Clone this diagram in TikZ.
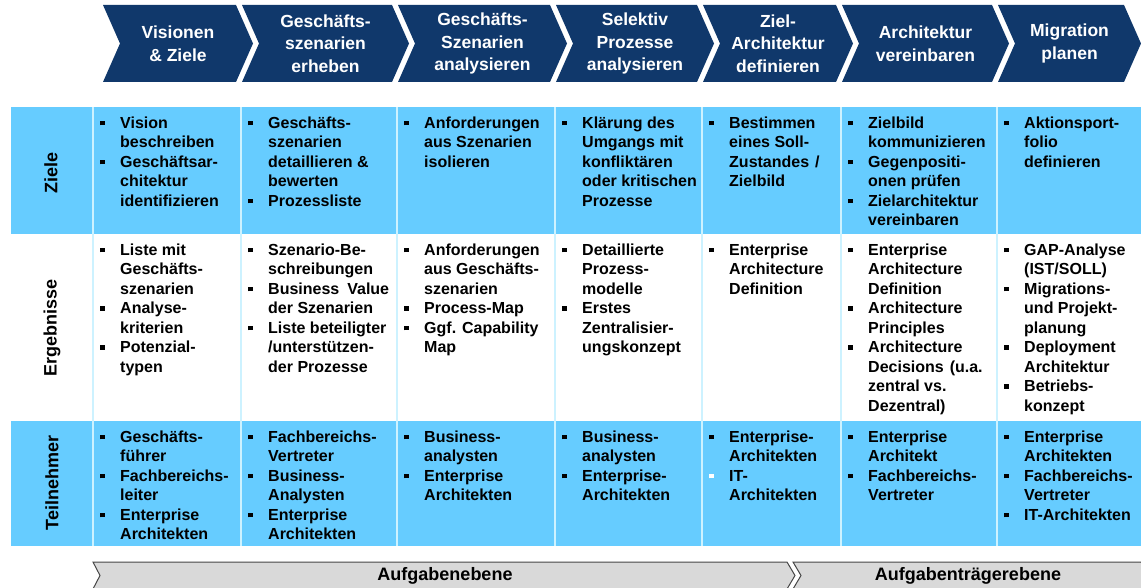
\documentclass[tikz,border=0pt]{standalone}
\usepackage{fontspec}
\setmainfont{Liberation Sans}
\usepackage{array}
\definecolor{navy}{RGB}{16,56,107}
\definecolor{cellblue}{RGB}{102,204,255}
\definecolor{divline}{RGB}{205,242,255}
\definecolor{bargray}{RGB}{217,217,217}
\definecolor{barline}{RGB}{70,70,70}
\newcommand{\bul}{\raisebox{3pt}{\rule{4.5pt}{4.5pt}}}
\newcommand{\wbul}{\textcolor{white}{\bul}}
\newcommand{\mkcell}[4]{\node[celltxt] (#1) at (#2+7,#3+7.5) {\begin{tabular}{@{}p{20pt}@{}l@{}}#4\end{tabular}};}
\newcommand{\chev}[4]{% name, back x, front x, text
  \fill[navy] (#2,5) -- (#3,5) -- (#3+17,43.5) -- (#3,82) -- (#2,82) -- (#2+17,43.5) -- cycle;
  \node[head] (#1) at ({(#2+#3)/2+8.5},43.5) {#4};}
\begin{document}
\begin{tikzpicture}[x=1pt,y=-1pt,
  celltxt/.style={anchor=north west, inner sep=0pt, font=\fontsize{16}{19.5}\selectfont\bfseries},
  head/.style={text=white, font=\fontsize{17.5}{22.5}\selectfont\bfseries, align=center, inner sep=0pt},
  rowlabel/.style={rotate=90, font=\fontsize{18}{20}\selectfont\bfseries, inner sep=0pt},
  bartxt/.style={font=\fontsize{18}{20}\selectfont\bfseries, inner sep=0pt},
  bar/.style={fill=bargray, draw=barline, line width=1pt}]
\useasboundingbox (0,0) rectangle (1141,588);
% header chevrons
\chev{h1}{103}{236}{Visionen\\ \& Ziele}
\chev{h2}{242}{392}{Geschäfts-\\szenarien\\erheben}
\chev{h3}{398}{550}{Geschäfts-\\Szenarien\\analysieren}
\chev{h4}{556}{697}{Selektiv\\Prozesse\\analysieren}
\chev{h5}{703}{836}{Ziel-\\Architektur\\definieren}
\chev{h6}{842}{992}{Architektur\\vereinbaren}
\chev{h7}{998}{1124}{Migration\\planen}
% rows
\fill[cellblue] (11,107) rectangle (1141,234);
\fill[cellblue] (11,421) rectangle (1141,546);
\foreach \xx in {93,241,397,555,702,841,997}{
  \draw[divline, line width=1.5pt] (\xx,107) -- (\xx,546);}
% row labels
\node[rowlabel] (lz) at (51,173) {Ziele};
\node[rowlabel] (le) at (52,328) {Ergebnisse};
\node[rowlabel] (lt) at (52,483) {Teilnehmer};
% Ziele
\mkcell{z1}{93}{107}{\bul & Vision\\ & beschreiben\\ \bul & Geschäftsar-\\ & chitektur\\ & identifizieren}
\mkcell{z2}{241}{107}{\bul & Geschäfts-\\ & szenarien\\ & detaillieren \&\\ & bewerten\\ \bul & Prozessliste}
\mkcell{z3}{397}{107}{\bul & Anforderungen\\ & aus Szenarien\\ & isolieren}
\mkcell{z4}{555}{107}{\bul & Klärung des\\ & Umgangs mit\\ & konfliktären\\ & oder kritischen\\ & Prozesse}
\mkcell{z5}{702}{107}{\bul & Bestimmen\\ & eines Soll-\\ & Zustandes\hspace{6pt}/\\ & Zielbild}
\mkcell{z6}{841}{107}{\bul & Zielbild\\ & kommunizieren\\ \bul & Gegenpositi-\\ & onen prüfen\\ \bul & Zielarchitektur\\ & vereinbaren}
\mkcell{z7}{997}{107}{\bul & Aktionsport-\\ & folio\\ & definieren}
% Ergebnisse
\mkcell{e1}{93}{234}{\bul & Liste mit\\ & Geschäfts-\\ & szenarien\\ \bul & Analyse-\\ & kriterien\\ \bul & Potenzial-\\ & typen}
\mkcell{e2}{241}{234}{\bul & Szenario-Be-\\ & schreibungen\\ \bul & Business\hspace{8pt}Value\\ & der Szenarien\\ \bul & Liste beteiligter\\ & /unterstützen-\\ & der Prozesse}
\mkcell{e3}{397}{234}{\bul & Anforderungen\\ & aus Geschäfts-\\ & szenarien\\ \bul & Process-Map\\ \bul & Ggf. Capability\\ & Map}
\mkcell{e4}{555}{234}{\bul & Detaillierte\\ & Prozess-\\ & modelle\\ \bul & Erstes\\ & Zentralisier-\\ & ungskonzept}
\mkcell{e5}{702}{234}{\bul & Enterprise\\ & Architecture\\ & Definition}
\mkcell{e6}{841}{234}{\bul & Enterprise\\ & Architecture\\ & Definition\\ \bul & Architecture\\ & Principles\\ \bul & Architecture\\ & Decisions\hspace{6pt}(u.a.\\ & zentral vs.\\ & Dezentral)}
\mkcell{e7}{997}{234}{\bul & GAP-Analyse\\ & (IST/SOLL)\\ \bul & Migrations-\\ & und Projekt-\\ & planung\\ \bul & Deployment\\ & Architektur\\ \bul & Betriebs-\\ & konzept}
% Teilnehmer
\mkcell{t1}{93}{421}{\bul & Geschäfts-\\ & führer\\ \bul & Fachbereichs-\\ & leiter\\ \bul & Enterprise\\ & Architekten}
\mkcell{t2}{241}{421}{\bul & Fachbereichs-\\ & Vertreter\\ \bul & Business-\\ & Analysten\\ \bul & Enterprise\\ & Architekten}
\mkcell{t3}{397}{421}{\bul & Business-\\ & analysten\\ \bul & Enterprise\\ & Architekten}
\mkcell{t4}{555}{421}{\bul & Business-\\ & analysten\\ \bul & Enterprise-\\ & Architekten}
\mkcell{t5}{702}{421}{\bul & Enterprise-\\ & Architekten\\ \wbul & IT-\\ & Architekten}
\mkcell{t6}{841}{421}{\bul & Enterprise\\ & Architekt\\ \bul & Fachbereichs-\\ & Vertreter}
\mkcell{t7}{997}{421}{\bul & Enterprise\\ & Architekten\\ \bul & Fachbereichs-\\ & Vertreter\\ \bul & IT-Architekten}
% bottom bars
\draw[bar] (93,562) -- (787,562) -- (795,575.5) -- (787,589) -- (93,589) -- (100,575.5) -- cycle;
\draw[bar] (793,562) -- (1141,562) -- (1149,575.5) -- (1141,589) -- (793,589) -- (801,575.5) -- cycle;
\node[bartxt] (b1) at (445,576) {Aufgabenebene};
\node[bartxt] (b2) at (968,576) {Aufgabenträgerebene};
\end{tikzpicture}
\end{document}
